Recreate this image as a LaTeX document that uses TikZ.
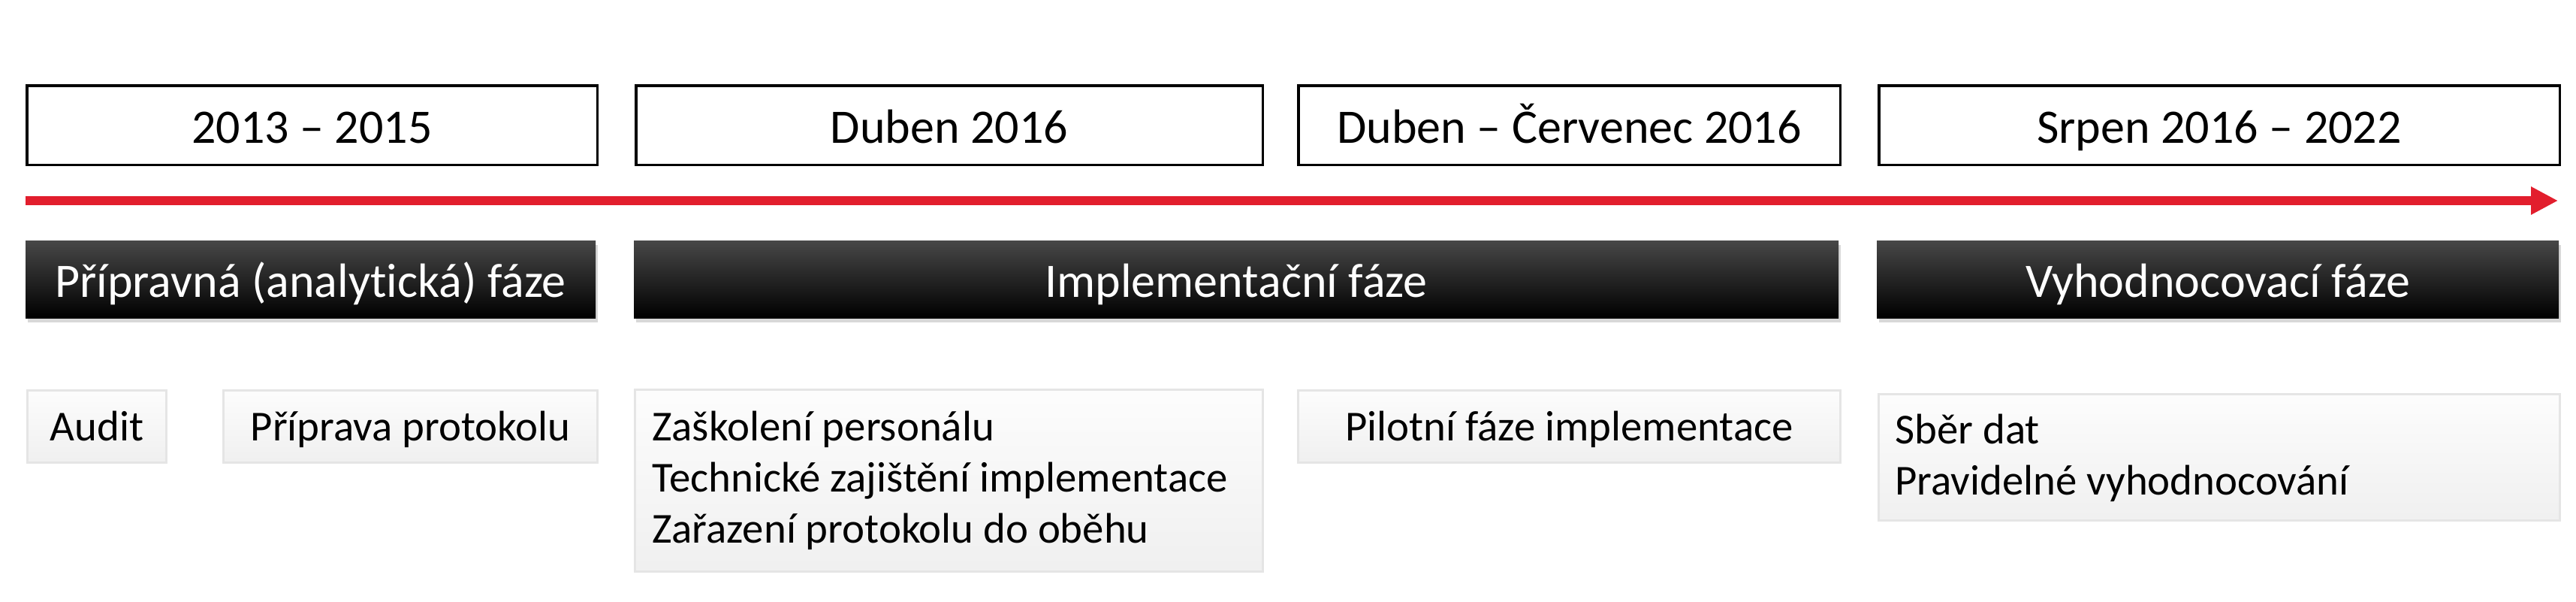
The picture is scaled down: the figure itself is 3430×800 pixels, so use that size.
\documentclass[tikz,border=0pt]{standalone}
\usepackage{fontspec}
\setmainfont{Carlito}[RawFeature=-liga]
\usetikzlibrary{arrows.meta,shadows}
\definecolor{tlred}{RGB}{226,30,45}
\begin{document}
\begin{tikzpicture}[x=0.5pt,y=-0.5pt,
  datebox/.style={draw=black,line width=1.75pt,fill=white,inner sep=0pt,
    font=\fontsize{32}{38}\selectfont,text height=24pt,text depth=0pt,
    minimum height=52.75pt},
  phasebox/.style={inner sep=0pt,top color=black!72,middle color=black,bottom color=black,
    text=white,font=\fontsize{32}{38}\selectfont,text height=23.5pt,text depth=0pt,
    minimum height=51.5pt,
    drop shadow={shadow xshift=1.5pt,shadow yshift=-3pt,opacity=0.3}},
  itembox/.style={draw=black!10,line width=1.5pt,top color=black!1,bottom color=black!6,
    inner sep=0pt,font=\fontsize{28.4}{34}\selectfont,text height=19pt,text depth=0pt},
  itemtext/.style={inner sep=0pt,anchor=base west,font=\fontsize{28.4}{34}\selectfont},
  tlarrow/.style={draw=tlred,line width=6pt,-{Triangle[length=18pt,width=17.5pt]}}
]
\useasboundingbox (0,0) rectangle (3430,800);
\fill[white] (0,0) rectangle (3430,800);

% date boxes
\node[datebox,minimum width=379.75pt] (d1) at (415.5,166.5) {2013 – 2015};
\node[datebox,minimum width=417.25pt] (d2) at (1264,166.5) {Duben 2016};
\node[datebox,minimum width=360.75pt] (d3) at (2089.5,166.5) {Duben – Červenec 2016};
\node[datebox,minimum width=453.25pt] (d4) at (2955,166.5) {Srpen 2016 – 2022};

% timeline arrow
\coordinate (tstart) at (34,267);
\coordinate (tend) at (3406,267);
\draw[tlarrow] (tstart) -- (tend);

% phase boxes
\node[phasebox,minimum width=379.5pt] (p1) at (413.5,371.5) {Přípravná (analytická) fáze};
\node[phasebox,minimum width=802pt] (p2) at (1646,371.5) {Implementační fáze};
\node[phasebox,minimum width=454pt] (p3) at (2953,371.5) {Vyhodnocovací fáze};

% item boxes
\node[itembox,minimum width=92.5pt,minimum height=48pt] (audit) at (129,567.5) {Audit};
\node[itembox,minimum width=249pt,minimum height=48pt] (prip) at (546.5,567.5) {Příprava protokolu};
\node[itembox,minimum width=418pt,minimum height=121pt] (zas) at (1263.5,639.5) {};
\node[itemtext] (zastext) at (868,586) {\begin{tabular}[t]{@{}l@{}}Zaškolení personálu\\Technické zajištění implementace\\Zařazení protokolu do oběhu\end{tabular}};
\node[itembox,minimum width=361pt,minimum height=48pt] (pil) at (2089.5,567.5) {Pilotní fáze implementace};
\node[itembox,minimum width=453.5pt,minimum height=84pt] (sber) at (2955,608.5) {};
\node[itemtext] (sbertext) at (2523,590) {\begin{tabular}[t]{@{}l@{}}Sběr dat\\Pravidelné vyhodnocování\end{tabular}};
\end{tikzpicture}
\end{document}
